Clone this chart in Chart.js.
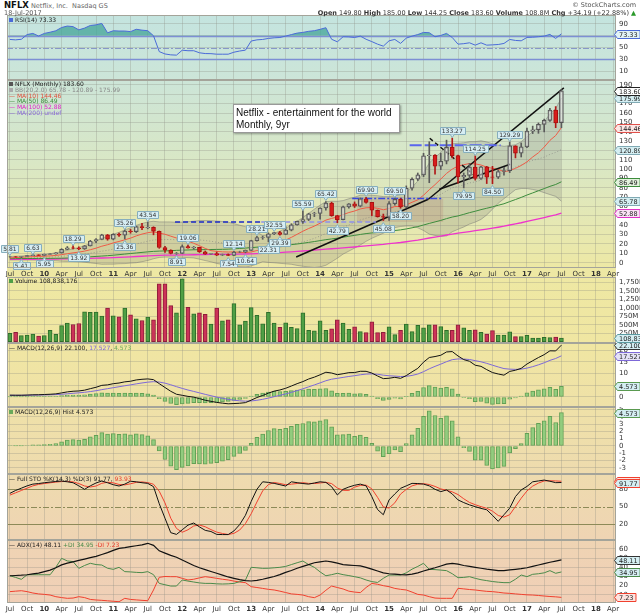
<!DOCTYPE html>
<html>
<head>
<meta charset="utf-8">
<title>NFLX Monthly</title>
<script src="https://cdn.jsdelivr.net/npm/chart.js@4.4.1/dist/chart.umd.min.js"></script>
<style>
  html, body { margin: 0; padding: 0; }
  body { width: 640px; height: 614px; position: relative; overflow: hidden; background: #fff;
         font-family: "DejaVu Sans", Verdana, sans-serif; color: #222; }
  #bg { position: absolute; left: 7px; top: 15px; width: 609px; height: 588px;
        background: linear-gradient(to bottom, #c4e4df 0%, #cce5d8 11%, #d9e7c5 25%, #e7e8b0 37%,
                    #eee8a3 44%, #f0e6a2 56%, #efe1a8 67%, #eedbae 78%, #efd4b3 89%, #f0cfb7 100%); }
  canvas { position: absolute; left: 0; }
  .lg { position: absolute; left: 9px; font-size: 6px; line-height: 6px; white-space: nowrap; color: #222; z-index: 5; }
  .ic { display: inline-block; width: 4px; height: 4px; margin-right: 2px; vertical-align: 0; }
  .hd { position: absolute; white-space: nowrap; font-size: 6.5px; color: #333; }
  #note { position: absolute; left: 233px; top: 104px; width: 167px; height: 29px; box-sizing: border-box;
          background: #fff; border: 1px solid #999; box-shadow: 1px 1px 2px rgba(0,0,0,0.35);
          font-family: "Liberation Sans", Arial, sans-serif; font-size: 10px; line-height: 12px;
          padding: 2px 0 0 2px; color: #111; z-index: 6; }
</style>
</head>
<body>
<div id="bg"></div>

<canvas id="cRsi"  width="640" height="65"  style="top:15px"></canvas>
<canvas id="cMain" width="640" height="197" style="top:80px"></canvas>
<canvas id="cVol"  width="640" height="66"  style="top:277px"></canvas>
<canvas id="cMacd" width="640" height="64"  style="top:343px"></canvas>
<canvas id="cHist" width="640" height="67"  style="top:407px"></canvas>
<canvas id="cSto"  width="640" height="66"  style="top:474px"></canvas>
<canvas id="cAdx"  width="640" height="74"  style="top:540px"></canvas>

<div class="hd" style="left:4px;top:0px"><b style="font-size:8.5px;color:#111">NFLX</b> <span style="color:#666">Netflix, Inc.&nbsp; Nasdaq GS</span></div>
<div class="hd" style="left:4px;top:9px;color:#555">18-Jul-2017</div>
<div class="hd" style="right:4px;top:1px;color:#555">© StockCharts.com</div>
<div class="hd" style="right:4px;top:9px"><b>Open</b> 149.80 <b>High</b> 185.00 <b>Low</b> 144.25 <b>Close</b> 183.60 <b>Volume</b> 108.8M <b>Chg</b> +34.19 (+22.88%) <span style="color:#2a9a2a">▲</span></div>

<div class="lg" style="top:17px"><span class="ic" style="background:#4a6ad8"></span>RSI(14) 73.33</div>
<div class="lg" style="top:81px;line-height:5.8px">
  <div><span class="ic" style="background:#555"></span>NFLX (Monthly) 183.60</div>
  <div style="color:#888"><span class="ic" style="background:#aaa"></span>BB(20,2.0) 65.78 - 120.89 - 175.99</div>
  <div style="color:#e0503c">— MA(10) 144.46</div>
  <div style="color:#3c8c3c">— MA(50) 86.49</div>
  <div style="color:#e020c8">— MA(100) 52.88</div>
  <div style="color:#8a6ad8">— MA(200) undef</div>
</div>
<div class="lg" style="top:278px"><span class="ic" style="background:#4f9f45"></span>Volume 108,838,176</div>
<div class="lg" style="top:345px">— MACD(12,26,9) 22.100, <span style="color:#7d68d8">17.527</span>, <span style="color:#6aaa5a">4.573</span></div>
<div class="lg" style="top:409px"><span class="ic" style="background:#6aaa5a"></span>MACD(12,26,9) Hist 4.573</div>
<div class="lg" style="top:476px">— Full STO %K(14,3) %D(3) 91.77, <span style="color:#e83a2a">93.93</span></div>
<div class="lg" style="top:542px">— ADX(14) 48.11 <span style="color:#4a8a4a">+DI 34.95</span> <span style="color:#e83a2a">-DI 7.23</span></div>

<div id="note">Netflix - entertainment for the world<br>Monthly, 9yr</div>

<script>
// ---- monthly data, Jul 2009 .. Jul 2017 (split adjusted) ----
const openP = [6.10,6.29,6.15,6.60,7.63,8.29,7.88,8.90,9.43,10.53,
  14.29,16.00,15.52,14.71,18.00,23.16,24.76,29.90,25.10,30.30,
  29.50,33.90,33.20,38.60,37.50,37.90,33.60,16.20,13.40,9.80,
  9.90,17.10,15.80,16.40,11.50,9.10,9.80,8.10,8.60,7.80,
  11.40,11.60,13.20,23.60,26.90,27.00,30.90,32.20,30.20,34.90,
  40.50,44.20,46.20,52.30,52.60,58.50,63.70,50.30,46.00,59.70,
  62.90,60.40,68.20,64.40,56.10,49.30,48.80,63.10,67.70,59.50,
  79.60,89.20,93.80,114.30,115.00,103.30,108.40,123.30,114.40,91.80,
  93.40,102.20,90.00,102.60,91.50,91.30,97.50,98.50,124.90,117.00,
  123.80,140.70,142.10,147.80,152.20,163.10,149.80];
const highP = [6.7,6.6,6.8,8.0,8.6,8.5,9.3,9.7,10.9,15.0,
  17.3,18.3,17.0,18.4,23.9,25.7,30.4,30.2,31.0,31.7,
  35.2,35.6,39.0,42.0,43.54,38.4,33.9,17.4,13.8,11.0,
  19.0,19.06,17.4,16.5,12.5,10.0,11.4,9.2,9.4,12.14,
  12.3,13.6,24.0,28.21,28.4,31.9,32.55,33.6,38.8,41.7,
  44.6,55.59,52.9,53.9,58.6,65.42,64.7,50.7,60.5,63.3,
  65.0,69.3,69.9,64.5,56.4,52.0,65.3,69.5,69.0,82.1,
  90.7,95.9,117.0,129.3,115.5,117.0,131.0,133.27,115.0,95.9,
  106.0,114.25,103.0,103.0,103.0,99.0,102.0,129.29,125.0,128.0,
  144.0,146.0,149.4,153.5,165.0,166.9,185.0];
const lowP = [5.8,5.9,5.4,6.5,7.5,7.6,7.4,8.6,9.2,10.3,
  13.8,14.6,13.9,14.2,17.8,21.3,24.5,24.0,24.4,28.2,
  25.4,31.5,32.2,35.4,36.2,29.8,15.4,10.9,9.4,8.91,
  9.8,15.6,14.4,11.0,8.9,8.8,7.6,7.6,7.54,7.6,
  10.9,10.64,13.1,23.0,25.0,22.31,30.0,29.39,29.9,34.0,
  40.1,42.0,45.0,49.3,46.5,56.2,49.6,42.79,45.6,58.3,
  59.0,59.7,63.5,50.3,48.7,45.08,45.1,61.5,58.2,58.5,
  77.5,87.8,92.0,85.5,94.5,99.5,105.6,112.0,85.0,79.95,
  89.0,88.3,89.0,84.6,84.5,89.9,93.5,96.3,112.0,113.0,
  123.0,138.0,138.3,139.8,151.0,144.3,144.25];
const closeP = [6.29,6.15,6.60,7.63,8.29,7.88,8.90,9.43,10.53,14.29,
  16.00,15.52,14.71,18.00,23.16,24.76,29.90,25.10,30.30,29.50,
  33.90,33.20,38.60,37.50,37.90,33.60,16.20,13.40,9.80,9.90,
  17.10,15.80,16.40,11.50,9.10,9.80,8.10,8.60,7.80,11.40,
  11.60,13.20,23.60,26.90,27.00,30.90,32.20,30.20,34.90,40.50,
  44.20,46.20,52.30,52.60,58.50,63.70,50.30,46.00,59.70,62.90,
  60.40,68.20,64.40,56.10,49.30,48.80,63.10,67.70,59.50,79.60,
  89.20,93.80,114.30,115.00,103.30,108.40,123.30,114.40,91.80,93.40,
  102.20,90.00,102.60,91.50,91.30,97.50,98.50,124.90,117.00,123.80,
  140.70,142.10,147.80,152.20,163.10,149.40,183.60];
const ma10 = [5.20,5.46,5.82,6.16,6.48,6.69,6.97,7.27,7.76,8.60,
  9.57,10.51,11.32,12.36,13.84,15.53,17.63,19.20,21.17,22.70,
  24.49,26.25,28.64,30.59,32.07,32.95,31.58,30.41,28.36,26.40,
  24.72,22.98,20.76,18.16,15.28,12.90,12.09,11.61,11.41,11.56,
  11.01,10.75,11.47,13.01,14.80,16.91,19.32,21.48,24.19,27.10,
  30.36,33.66,36.53,39.10,42.25,45.53,47.34,48.92,51.40,53.64,
  55.26,57.46,58.67,59.02,58.10,56.61,57.89,60.06,60.04,61.71,
  64.59,67.15,72.14,78.03,83.43,89.39,95.41,100.08,103.31,104.69,
  105.99,105.61,104.44,102.09,100.89,99.80,97.32,98.37,100.89,103.93,
  107.78,112.99,117.51,123.58,130.76,135.95,144.46];
const ma50 = [4.3,4.35,4.4,4.45,4.5,4.55,4.6,4.65,4.7,4.8,
  5.0,5.3,5.6,5.9,6.3,6.7,7.1,7.5,8.0,8.6,
  9.2,9.8,10.4,11.0,11.6,12.1,12.4,12.6,12.8,13.2,
  13.4,13.6,13.8,13.9,14.0,14.1,14.2,14.3,14.5,14.8,
  15.2,15.6,16.1,16.6,17.1,17.6,18.0,18.4,18.8,19.3,
  20.0,20.8,21.7,22.6,23.6,24.6,25.4,26.2,27.2,28.3,
  29.2,30.2,31.1,31.8,32.3,32.8,33.6,34.4,35.1,36.1,
  37.3,38.6,40.3,42.0,43.6,45.2,47.1,48.8,50.0,51.7,
  53.5,55.0,56.7,58.2,59.7,61.4,63.0,65.3,67.5,69.8,
  72.3,74.6,76.9,79.2,81.6,83.6,86.49];
const ma100 = [3.5,3.55,3.6,3.65,3.7,3.75,3.8,3.85,3.9,4.0,
  4.1,4.2,4.35,4.5,4.65,4.8,5.0,5.2,5.45,5.7,
  6.0,6.3,6.6,6.9,7.2,7.5,7.9,8.0,8.1,8.2,
  8.3,8.4,8.5,8.6,8.7,8.8,8.85,8.9,8.95,9.0,
  9.1,9.3,9.5,9.7,9.9,10.2,10.5,10.8,11.2,11.6,
  12.0,12.5,13.0,13.5,14.0,14.5,14.9,15.3,15.8,16.3,
  16.8,17.4,18.0,18.5,19.0,19.5,20.4,21.0,21.6,22.4,
  23.3,24.2,25.3,26.4,27.4,28.5,29.6,30.6,31.5,32.4,
  33.3,34.2,35.1,36.0,36.9,37.9,39.0,40.3,41.5,42.7,
  44.1,45.5,46.9,48.3,49.8,51.1,52.88];
const bbMid = [4.78,4.90,5.05,5.21,5.38,5.52,5.72,6.00,6.31,6.80,
  7.38,7.98,8.57,9.26,10.16,11.11,12.30,13.23,14.47,15.65,
  17.03,18.38,19.98,21.47,22.95,24.24,24.61,24.80,24.77,24.55,
  24.60,24.62,24.70,24.38,23.67,22.93,21.84,21.01,19.89,18.98,
  17.87,16.87,16.12,15.59,15.04,14.91,15.71,16.55,17.80,19.33,
  20.69,22.21,24.00,26.06,28.53,31.22,33.33,35.20,37.80,40.37,
  42.81,45.56,47.60,49.06,50.18,51.07,52.62,54.49,55.72,57.68,
  59.93,62.31,65.41,68.53,70.77,73.00,76.65,80.07,81.68,83.20,
  85.29,86.38,88.29,90.06,92.16,94.60,96.37,99.23,102.10,104.31,
  106.89,109.30,110.98,112.84,115.83,117.88,120.89];
const bbUp = [6.68,6.90,7.25,7.61,7.98,8.32,8.92,9.60,10.51,12.00,
  13.38,14.78,16.17,18.06,20.56,23.11,26.30,28.03,30.47,32.45,
  35.03,37.18,39.98,41.87,43.55,44.24,43.61,43.60,43.57,43.15,
  43.40,43.82,44.30,44.98,45.07,44.93,44.44,44.01,43.29,41.78,
  40.07,38.47,35.72,32.59,29.04,29.51,31.51,33.75,36.80,40.33,
  44.29,48.21,52.60,57.26,61.53,65.22,65.73,65.60,66.40,68.37,
  70.01,72.16,72.40,72.06,71.58,70.67,70.62,71.49,72.72,76.08,
  80.53,87.31,96.41,106.53,112.37,117.80,124.65,127.07,127.68,128.20,
  129.29,129.38,130.29,129.06,127.16,125.60,124.37,125.23,126.10,129.31,
  134.49,140.30,144.98,150.84,158.83,164.88,175.99];
const bbLo = [2.88,2.90,2.85,2.81,2.78,2.72,2.52,2.40,2.11,1.60,
  1.38,1.18,0.97,0.46,-0.24,-0.89,-1.70,-1.57,-1.53,-1.15,
  -0.97,-0.42,-0.02,1.07,2.35,4.24,5.61,6.00,5.97,5.95,
  5.80,5.42,5.10,3.78,2.27,0.93,-0.76,-1.99,-3.51,-3.82,
  -4.33,-4.73,-3.48,-1.41,1.04,0.31,-0.09,-0.65,-1.20,-1.67,
  -2.91,-3.79,-4.60,-5.14,-4.47,-2.78,0.93,4.80,9.20,12.37,
  15.61,18.96,22.80,26.06,28.78,31.47,34.62,37.49,38.72,39.28,
  39.33,37.31,34.41,30.53,29.17,28.20,28.65,33.07,35.68,38.20,
  41.29,43.38,46.29,51.06,57.16,63.60,68.37,73.23,78.10,79.31,
  79.29,78.30,76.98,74.84,72.83,70.88,65.78];
const volume = [250,278,179,198,228,169,179,337,218,476,
  546,506,536,883,863,873,754,992,764,734,
  992,794,675,625,724,645,1706,1706,1062,853,
  1855,1012,823,853,804,516,992,615,645,1121,
  496,605,1002,774,526,863,546,427,556,427,
  387,853,337,317,615,337,377,645,546,367,
  437,298,268,585,268,278,437,208,337,516,
  298,486,407,496,496,446,337,337,496,407,
  337,347,278,228,327,198,198,288,149,149,
  188,109,109,129,119,139,108.8];
const rsi = [63.7,63.0,64.0,72.0,74.0,69.5,74.0,76.0,78.5,84.0,
  86.5,85.5,80.0,83.0,87.5,88.5,91.0,75.0,78.5,78.0,
  78.0,77.0,81.0,79.5,78.6,70.0,43.0,39.0,37.5,37.0,
  45.4,44.5,44.5,41.0,39.7,39.5,38.6,38.6,38.6,42.0,
  44.0,45.5,61.0,63.0,63.7,65.4,66.5,67.0,69.4,72.0,
  74.5,75.7,77.5,78.6,80.9,83.7,64.0,59.7,68.3,68.0,
  67.0,69.4,64.0,60.0,55.7,52.3,61.4,63.7,57.0,66.0,
  69.4,72.0,75.7,75.1,68.3,70.5,74.0,67.0,55.7,56.5,
  58.0,54.0,58.0,54.0,54.5,55.1,56.9,63.7,62.0,61.4,
  67.1,67.5,68.3,69.4,72.3,65.4,73.33];
const macd = [0.78,0.75,0.75,0.82,0.93,0.96,1.06,1.17,1.33,1.74,
  2.17,2.45,2.58,2.91,3.55,4.14,4.96,5.16,5.67,5.95,
  6.45,6.71,7.27,7.54,7.70,7.39,5.68,4.05,2.44,1.16,
  0.72,0.26,-0.05,-0.69,-1.38,-1.84,-2.31,-2.62,-2.90,-2.79,
  -2.66,-2.40,-1.34,-0.23,0.65,1.64,2.50,2.99,3.71,4.68,
  5.68,6.56,7.66,8.46,9.46,10.55,10.21,9.49,9.91,10.37,
  10.41,10.95,10.94,10.20,8.95,7.82,7.98,8.38,7.95,9.12,
  10.71,12.19,14.85,16.82,17.23,17.78,19.18,19.35,17.47,15.92,
  15.23,13.53,13.06,11.66,10.41,9.80,9.30,10.90,11.40,12.20,
  14.04,15.44,16.81,18.04,19.67,19.62,22.10];
const signal = [0.72,0.73,0.73,0.75,0.79,0.82,0.87,0.93,1.01,1.16,
  1.36,1.58,1.78,2.00,2.31,2.68,3.14,3.54,3.97,4.37,
  4.79,5.17,5.59,5.98,6.32,6.53,6.36,5.90,5.21,4.40,
  3.66,2.98,2.37,1.76,1.13,0.54,-0.03,-0.55,-1.02,-1.37,
  -1.63,-1.78,-1.69,-1.40,-0.99,-0.46,0.13,0.70,1.30,1.98,
  2.72,3.49,4.32,5.15,6.01,6.92,7.58,7.96,8.35,8.75,
  9.08,9.46,9.76,9.85,9.67,9.30,9.04,8.91,8.72,8.80,
  9.18,9.78,10.79,12.00,13.05,14.00,15.04,15.90,16.21,16.16,
  15.97,15.48,14.99,14.33,13.55,12.80,12.10,11.86,11.77,11.86,
  12.30,12.93,13.71,14.58,15.60,16.40,17.53];
const hist = [0.06,0.02,0.02,0.07,0.14,0.14,0.19,0.24,0.32,0.58,
  0.81,0.87,0.80,0.91,1.24,1.46,1.82,1.62,1.70,1.58,
  1.66,1.54,1.68,1.56,1.38,0.86,-0.68,-1.85,-2.77,-3.24,
  -2.94,-2.72,-2.42,-2.45,-2.51,-2.38,-2.28,-2.07,-1.88,-1.42,
  -1.03,-0.62,0.35,1.17,1.64,2.10,2.37,2.29,2.41,2.70,
  2.96,3.07,3.34,3.31,3.45,3.63,2.63,1.53,1.56,1.62,
  1.33,1.49,1.18,0.35,-0.72,-1.48,-1.06,-0.53,-0.77,0.32,
  1.53,2.41,4.06,4.82,4.18,3.78,4.14,3.45,1.26,-0.24,
  -0.74,-1.95,-1.93,-2.67,-3.14,-3.00,-2.80,-0.96,-0.37,0.34,
  1.74,2.51,3.10,3.46,4.07,3.22,4.573];
const stoK = [73,78,82,86,89,90,91.4,92.5,93.5,94.3,
  93,91.4,86,80,86,91,94.3,91.4,88,85.7,
  89,94,93,91.4,90.3,84.6,55,30,5,2,
  10,18,21.7,15,9,7,2,1.7,1.7,8,
  19,35,59,80,93,92,90.3,88,85.7,93,
  91.5,90,89,91,93,92,84.6,70.3,80,84,
  87,89,86,67.4,45,36,61.7,72,81.7,86,
  90.3,90,89,86,80,76,78.9,72,61.7,57,
  53.1,50,47,44.6,35,24.6,36,47.4,67.4,78.9,
  85,93,94.5,96,94,91.5,91.77];
const stoD = [70,74,78,82,86,88.5,90,91.3,92.5,93.4,
  93.6,92.9,90,85.8,84,85.7,90.4,92.2,91.2,88.4,
  87.6,89.6,92,92.8,91.6,88.8,76.6,56.5,30,12.3,
  5.7,10,16.6,18.2,15.2,10.3,6,3.6,1.8,3.8,
  9.6,20.7,37.7,58,77.3,88.3,91.8,90.1,88,88.9,
  90.1,91.5,90.2,90,91,92,89.9,82.3,78.3,78.1,
  83.7,86.7,87.3,80.8,66.1,49.5,47.6,56.6,71.8,79.9,
  86,88.8,89.8,88.3,85,80.7,78.3,75.6,70.9,63.6,
  57.3,53.4,50,47.2,42.2,34.7,31.9,36,50.3,64.6,
  77.1,85.6,90.8,94.5,94.8,94.5,93.93];
const adx = [30.8,31.1,31.4,31.9,32.8,33.7,35.3,37,39.5,42.7,
  44.5,46,47.5,49,50.5,52,54,56,58.5,60.7,
  61.5,62.5,63.5,64.5,66.2,64,58,55.5,53,51,
  48,45,42,39.5,37.5,35.5,33.5,31.5,29.5,28,
  26.5,25.5,25.1,25.8,27,28.5,30,32,34.5,36.5,
  39,41,43,45,46,46.9,46,44.5,43,42.5,
  42,41.5,40,38,36,34,33,32.5,32,31.7,
  32.5,34,36,37.8,39.5,41.5,43.5,44.4,43.5,42,
  41,40,39,38,37.2,36.4,36.5,37.2,37.8,38.5,
  39.5,41,42.5,44,45.5,46.8,48.11];
const plusDI = [30.8,29,26.9,31.9,31.9,31.9,31.9,31.9,40,49.8,
  47,46.2,38.9,42,44.4,43,42.5,39,37.8,40,
  35.3,35,34.5,34.2,35.3,32,22.5,21,19.6,19.6,
  26.2,25,24,23,22.5,22.5,22,21.8,22,22.5,
  24.4,26,40,39.5,38.9,39,39.5,40,41,43,
  45,46.9,43,40,35,30.8,32,33.5,32,31,
  29.8,28.5,26.2,24.4,23.5,28,31.6,31.6,31.6,34,
  38,41,44.4,37.8,37.5,37,36.4,33,28.7,29,
  29.8,28,26.5,25.5,24.5,23.8,23.3,23.3,27,31.6,
  29.8,32.4,33,34,36.4,33.5,34.95];
const minusDI = [13.5,14,14.5,13.5,12,11,10.5,9.8,8,7,
  6.2,6.5,8,7,5,4.4,4,3.5,3,2.5,
  6.2,5,4.5,4,3.6,15.3,29.1,30,29.8,29.8,
  28,26.2,27,28.5,29.8,29,28,27,26.2,25,
  24,23.3,18.9,18,17,16,15.3,14,12.5,11,
  10.5,9.8,8,6.9,9.8,15,19.6,18,16.4,14,
  13,12.4,18,22.5,21.5,20,18.9,17,16,15.3,
  13,10.5,9.8,8,6.5,6.2,6.2,6.2,17.1,16.5,
  15.8,15.3,14.5,13.8,13.5,12.8,12,11.6,11,10.5,
  10,9.8,9.3,8.7,8.2,7.8,7.23];

// drawn overlays, in [month index, price] units
const trendLines = [[49.3, 6.1, 76.9, 67.8], [76.9, 67.8, 105.2, 186.8], [79.2, 78.5, 94.0, 105.2]];
const dashedTrend = [77.2, 133.0, 87.3, 90.0];
const levelLines = [[24, 42, 43.54], [42, 66, 43.54], [61, 80, 68.5], [73, 92, 125.5]];
const zoneBox = [62, 80, 43.5, 68.5];
const priceNotes = [[0,'5.81',0],[2,'5.41',1],[4,'6.63',0],[6,'5.95',1],[11,'18.29',0],[12,'13.92',1],
  [20,'35.26',0],[20,'25.36',1],[24,'43.54',0],[29,'8.91',1],[31,'19.06',0],[38,'7.54',1],
  [39,'12.14',0],[41,'10.64',1],[43,'28.21',0],[45,'22.31',1],[46,'32.55',0],[47,'29.39',1],
  [51,'55.59',0],[55,'65.42',0],[57,'42.79',1],[62,'69.90',0],[65,'45.08',1],[67,'69.50',0],
  [68,'58.20',1],[77,'133.27',0],[79,'79.95',1],[81,'114.25',0],[84,'84.50',1],[87,'129.29',0]];

// axis ticks
const MONTH_NAMES = ['Jan','Feb','Mar','Apr','May','Jun','Jul','Aug','Sep','Oct','Nov','Dec'];
const months = [];
for (let i = 0; i < 106; i++) {
  const m = (6 + i) % 12, y = 2009 + Math.floor((6 + i) / 12);
  months.push(MONTH_NAMES[m] + ' ' + y);
}
const priceTicks = [0,10,20,30,40,50,60,70,80,90,100,110,120,130,140,150,160,170,180,190];
const rsiTicks = [10,30,50,70,90];
const volTicks = [250,500,750,1000,1250,1500,1750];
const macdTicks = [0,5,10,15,20];
const histTicks = [-3,-2,-1,0,1,2,3,4,5];
const stoTicks = [20,50,80];
const adxTicks = [10,20,30,40,50,60];

const FONT = '"DejaVu Sans", Verdana, sans-serif';
const GRID = 'rgba(140,140,130,0.30)';
Chart.defaults.font.family = FONT;
Chart.defaults.animation = false;
Chart.defaults.events = [];
Chart.defaults.plugins.legend.display = false;
Chart.defaults.plugins.tooltip.enabled = false;
Chart.defaults.elements.point.radius = 0;
Chart.defaults.elements.line.tension = 0;

function monthOf(i) { return (6 + i) % 12; }
function xTickLabel(i) {
  const m = monthOf(i);
  if (m === 0) return String((2009 + Math.floor((6 + i) / 12)) % 100).padStart(2, '0');
  if (m === 3 || m === 6 || m === 9) return MONTH_NAMES[m];
  return '';
}

function xAxis(labelH) {
  return {
    type: 'category', offset: true,
    grid: { offset: false, drawTicks: false, color: c => (monthOf(c.index) % 3 === 0 ? GRID : 'rgba(0,0,0,0)') },
    border: { display: false },
    ticks: {
      display: labelH > 0, autoSkip: false, maxRotation: 0, minRotation: 0, padding: 2, color: '#333',
      font: c => ({ family: FONT, size: 7, weight: monthOf(c.index) === 0 ? 'bold' : 'normal' }),
      callback: (v, i) => xTickLabel(i)
    },
    afterFit: s => { s.height = labelH; s.paddingLeft = 0; s.paddingRight = 0; }
  };
}
function yAxis(min, max, ticks, fmt, gridColor) {
  return {
    position: 'right', min: min, max: max,
    afterBuildTicks: s => { s.ticks = ticks.map(v => ({ value: v })); },
    grid: { drawTicks: false, color: gridColor || GRID },
    border: { display: false },
    ticks: { autoSkip: false, padding: 3, color: '#333', font: { family: FONT, size: 7 },
             callback: fmt || (v => String(v)) },
    afterFit: s => { s.width = 24; s.paddingTop = 0; s.paddingBottom = 0; }
  };
}

function drawTag(ctx, x0, y, t) {
  ctx.font = '6.5px ' + FONT;
  const w = ctx.measureText(t.text).width + 4, h = 8;
  const yy = Math.round(y) + 0.5, xx = Math.round(x0) + 0.5;
  ctx.beginPath();
  ctx.moveTo(xx, yy); ctx.lineTo(xx + 3, yy - h / 2); ctx.lineTo(xx + 3 + w, yy - h / 2);
  ctx.lineTo(xx + 3 + w, yy + h / 2); ctx.lineTo(xx + 3, yy + h / 2); ctx.closePath();
  ctx.fillStyle = t.f; ctx.fill(); ctx.strokeStyle = t.s; ctx.lineWidth = 1; ctx.stroke();
  ctx.fillStyle = '#222'; ctx.textAlign = 'left'; ctx.textBaseline = 'middle';
  ctx.fillText(t.text, xx + 4.5, yy + 0.5);
}
function drawNote(ctx, x, y, text, below) {
  ctx.font = '6px ' + FONT;
  const w = Math.round(ctx.measureText(text).width + 4), h = 7;
  const bx = Math.round(x - w / 2) + 0.5;
  const by = below ? Math.round(y + 4) + 0.5 : Math.round(y - 4 - h) + 0.5;
  ctx.fillStyle = '#d6edf3'; ctx.strokeStyle = '#86aebd'; ctx.lineWidth = 1;
  ctx.beginPath(); ctx.rect(bx, by, w, h); ctx.fill(); ctx.stroke();
  ctx.beginPath();
  if (below) { ctx.moveTo(x - 2, by); ctx.lineTo(x, by - 3); ctx.lineTo(x + 2, by); }
  else { ctx.moveTo(x - 2, by + h); ctx.lineTo(x, by + h + 3); ctx.lineTo(x + 2, by + h); }
  ctx.fill(); ctx.stroke();
  ctx.fillStyle = '#333'; ctx.textAlign = 'center'; ctx.textBaseline = 'middle';
  ctx.fillText(text, x, by + h / 2 + 0.5);
}

// panel decorations: reference lines, zone, notes, value tags and frame
function deco(cfg) {
  return {
    id: 'deco',
    beforeDatasetsDraw(chart) {
      const { ctx, chartArea: a, scales } = chart;
      ctx.save();
      if (cfg.zone) {
        const z = cfg.zone;
        const x1 = scales.xl.getPixelForValue(z[0]), x2 = scales.xl.getPixelForValue(z[1]);
        const y1 = scales.y.getPixelForValue(z[3]), y2 = scales.y.getPixelForValue(z[2]);
        ctx.fillStyle = 'rgba(196,118,100,0.22)';
        ctx.fillRect(x1, y1, x2 - x1, y2 - y1);
      }
      (cfg.hlines || []).forEach(h => {
        const y = Math.round(scales.y.getPixelForValue(h.v)) + 0.5;
        ctx.strokeStyle = h.c; ctx.lineWidth = h.w; ctx.setLineDash(h.d || []);
        ctx.beginPath(); ctx.moveTo(a.left, y); ctx.lineTo(a.right, y); ctx.stroke();
      });
      ctx.restore();
    },
    afterDatasetsDraw(chart) {
      if (!cfg.notes) return;
      const { ctx, scales } = chart;
      ctx.save();
      cfg.notes.forEach(n => {
        const x = scales.x.getPixelForValue(n[0]);
        const y = scales.y.getPixelForValue(n[2] ? lowP[n[0]] : highP[n[0]]);
        drawNote(ctx, x, y, n[1], n[2]);
      });
      ctx.restore();
    },
    afterDraw(chart) {
      const { ctx, chartArea: a, scales } = chart;
      ctx.save();
      ctx.strokeStyle = '#a4a49a'; ctx.lineWidth = 1;
      ctx.strokeRect(a.left + 0.5, a.top + 0.5, a.right - a.left - 1, a.bottom - a.top - 1);
      (cfg.tags || []).forEach(t => drawTag(ctx, a.right - 2, scales.y.getPixelForValue(t.v), t));
      ctx.restore();
    }
  };
}

function opts(labelH, y, extraScales) {
  return {
    responsive: false, maintainAspectRatio: false,
    layout: { padding: { left: 7, right: 0, top: 0, bottom: 0 } },
    scales: Object.assign({ x: xAxis(labelH), y: y }, extraScales || {})
  };
}
const TAG_F = '#d4eef2', TAG_S = '#80aab4';

// ---- RSI ----
new Chart(document.getElementById('cRsi'), {
  type: 'line',
  data: { labels: months, datasets: [{
    data: rsi, borderColor: '#4a6ad8', borderWidth: 1,
    fill: { target: { value: 70 }, above: 'rgba(72,166,154,0.78)', below: 'rgba(0,0,0,0)' }
  }] },
  options: opts(0, yAxis(-5.3, 105.3, rsiTicks)),
  plugins: [deco({
    hlines: [{ v: 70, c: '#7d8fd4', w: 1.5 }, { v: 30, c: '#7d8fd4', w: 1.5 }, { v: 50, c: '#8797c8', w: 1, d: [6, 2, 2, 2] }],
    tags: [{ v: 73.33, text: '73.33', s: '#4a6ad8', f: '#e2f2f6' }]
  })]
});

// ---- Price ----
const bodyData = openP.map((o, i) => [o, closeP[i]]);
const upWick = openP.map((o, i) => [Math.max(o, closeP[i]), highP[i]]);
const loWick = openP.map((o, i) => [lowP[i], Math.min(o, closeP[i])]);
const rising = openP.map((o, i) => closeP[i] >= o);
const seg = (r) => [{ x: r[0], y: r[1] }, { x: r[2], y: r[3] }];
const levelStyles = [
  { c: '#1a28c8', d: [5, 3], w: 1.5, o: 4 },
  { c: '#8e90ec', d: [5, 3], w: 1.5, o: 4 },
  { c: '#3a48e0', d: [7, 2, 2, 2], w: 1.5, o: 4 },
  { c: '#5a66ee', d: [12, 3], w: 2, o: 4 }
];
const mainSets = [];
levelLines.forEach((l, k) => mainSets.push({
  type: 'line', xAxisID: 'xl', order: levelStyles[k].o, data: [{ x: l[0], y: l[2] }, { x: l[1], y: l[2] }],
  borderColor: levelStyles[k].c, borderWidth: levelStyles[k].w, borderDash: levelStyles[k].d
}));
mainSets.push(
  { type: 'line', order: 10, data: bbUp, borderColor: 'rgba(110,110,110,0.45)', borderWidth: 1, fill: false },
  { type: 'line', order: 10, data: bbLo, borderColor: 'rgba(110,110,110,0.45)', borderWidth: 1,
    fill: '-1', backgroundColor: 'rgba(120,120,115,0.22)' },
  { type: 'line', order: 9, data: bbMid, borderColor: 'rgba(120,120,120,0.55)', borderWidth: 1, borderDash: [1, 2] },
  { type: 'line', order: 8, data: ma100, borderColor: '#ee33cc', borderWidth: 1.3 },
  { type: 'line', order: 7, data: ma50, borderColor: '#3c8c3c', borderWidth: 1 },
  { type: 'line', order: 6, data: ma10, borderColor: '#ee5a46', borderWidth: 1 }
);
trendLines.forEach(t => mainSets.push({ type: 'line', xAxisID: 'xl', order: 5, data: seg(t), borderColor: '#111', borderWidth: 1.5 }));
mainSets.push({ type: 'line', xAxisID: 'xl', order: 5, data: seg(dashedTrend), borderColor: '#111', borderWidth: 1.5, borderDash: [4, 3] });
mainSets.push(
  { type: 'bar', order: 3, data: upWick, grouped: false, barThickness: 1,
    backgroundColor: rising.map(u => (u ? '#5a5a5a' : '#b01818')) },
  { type: 'bar', order: 3, data: loWick, grouped: false, barThickness: 1,
    backgroundColor: rising.map(u => (u ? '#5a5a5a' : '#b01818')) },
  { type: 'bar', order: 1, data: bodyData, grouped: false, barThickness: 4, borderWidth: 1, borderSkipped: false,
    backgroundColor: rising.map(u => (u ? 'rgba(255,255,255,0.45)' : '#d81c1c')),
    borderColor: rising.map(u => (u ? '#555555' : '#a81010')) }
);
new Chart(document.getElementById('cMain'), {
  type: 'bar',
  data: { labels: months, datasets: mainSets },
  options: opts(9, yAxis(-5.67, 195.3, priceTicks), { xl: { type: 'linear', min: -0.5, max: 105.5, display: false } }),
  plugins: [deco({
    zone: zoneBox,
    notes: priceNotes,
    tags: [
      { v: 52.88, text: '52.88', s: '#e030c8', f: '#fbe2f6' },
      { v: 65.78, text: '65.78', s: TAG_S, f: TAG_F },
      { v: 86.49, text: '86.49', s: '#3c8c3c', f: '#e2f2dc' },
      { v: 120.89, text: '120.89', s: TAG_S, f: TAG_F },
      { v: 144.46, text: '144.46', s: '#e0504a', f: '#fde6e4' },
      { v: 175.99, text: '175.99', s: TAG_S, f: TAG_F },
      { v: 183.6, text: '183.60', s: '#222', f: '#ffffff' }
    ]
  })]
});

// ---- Volume ----
const volUp = closeP.map((c, i) => c >= (i ? closeP[i - 1] : openP[0]));
new Chart(document.getElementById('cVol'), {
  type: 'bar',
  data: { labels: months, datasets: [{
    data: volume, barThickness: 4, borderWidth: 1, borderSkipped: false,
    backgroundColor: volUp.map(u => (u ? '#4f9f45' : '#cc3358')),
    borderColor: volUp.map(u => (u ? '#2e6e2a' : '#8e1e3a'))
  }] },
  options: opts(0, yAxis(-38, 1906, volTicks, v => v.toLocaleString('en-US') + 'M')),
  plugins: [deco({ tags: [{ v: 108.8, text: '108,838,176', s: '#5a9aa0', f: TAG_F }] })]
});

// ---- MACD ----
new Chart(document.getElementById('cMacd'), {
  type: 'bar',
  data: { labels: months, datasets: [
    { type: 'bar', order: 3, data: hist, barThickness: 4, borderWidth: 1, borderSkipped: false,
      backgroundColor: '#92cc7e', borderColor: '#63a055' },
    { type: 'line', order: 2, data: signal, borderColor: '#7d68d8', borderWidth: 1 },
    { type: 'line', order: 1, data: macd, borderColor: '#111', borderWidth: 1 }
  ] },
  options: opts(0, yAxis(-4.26, 23.0, macdTicks)),
  plugins: [deco({ tags: [
    { v: 4.573, text: '4.573', s: '#5a9a50', f: TAG_F },
    { v: 17.527, text: '17.527', s: '#7d68d8', f: '#e4e2f6' },
    { v: 22.1, text: '22.100', s: '#333', f: TAG_F }
  ] })]
});

// ---- MACD histogram ----
new Chart(document.getElementById('cHist'), {
  type: 'bar',
  data: { labels: months, datasets: [{
    data: hist, barThickness: 4, borderWidth: 1, borderSkipped: false,
    backgroundColor: '#92cc7e', borderColor: '#63a055'
  }] },
  options: opts(0, yAxis(-3.84, 5.34, histTicks)),
  plugins: [deco({ tags: [{ v: 4.573, text: '4.573', s: '#5a9a50', f: TAG_F }] })]
});

// ---- Full stochastics ----
new Chart(document.getElementById('cSto'), {
  type: 'line',
  data: { labels: months, datasets: [
    { data: stoD, borderColor: '#f0402e', borderWidth: 1, order: 2 },
    { data: stoK, borderColor: '#111', borderWidth: 1, order: 1 }
  ] },
  options: opts(0, yAxis(-7.7, 106.5, stoTicks, null, 'rgba(0,0,0,0)')),
  plugins: [deco({
    hlines: [{ v: 80, c: '#8d8a58', w: 1.2 }, { v: 20, c: '#8d8a58', w: 1.2 }, { v: 50, c: '#8d8a58', w: 1, d: [6, 2, 2, 2] }],
    tags: [{ v: 93.93, text: '93.93', s: '#f0402e', f: '#fde4e0' }, { v: 91.77, text: '91.77', s: '#f0402e', f: TAG_F }]
  })]
});

// ---- ADX ----
new Chart(document.getElementById('cAdx'), {
  type: 'line',
  data: { labels: months, datasets: [
    { data: minusDI, borderColor: '#f0402e', borderWidth: 1, order: 3 },
    { data: plusDI, borderColor: '#4a8a4a', borderWidth: 1, order: 2 },
    { data: adx, borderColor: '#111', borderWidth: 1.2, order: 1 }
  ] },
  options: opts(11, yAxis(1.1, 69.8, adxTicks)),
  plugins: [deco({ tags: [
    { v: 7.23, text: '7.23', s: '#f0402e', f: '#fde4e0' },
    { v: 34.95, text: '34.95', s: '#4a8a4a', f: TAG_F },
    { v: 48.11, text: '48.11', s: '#333', f: TAG_F }
  ] })]
});
</script>
</body>
</html>
